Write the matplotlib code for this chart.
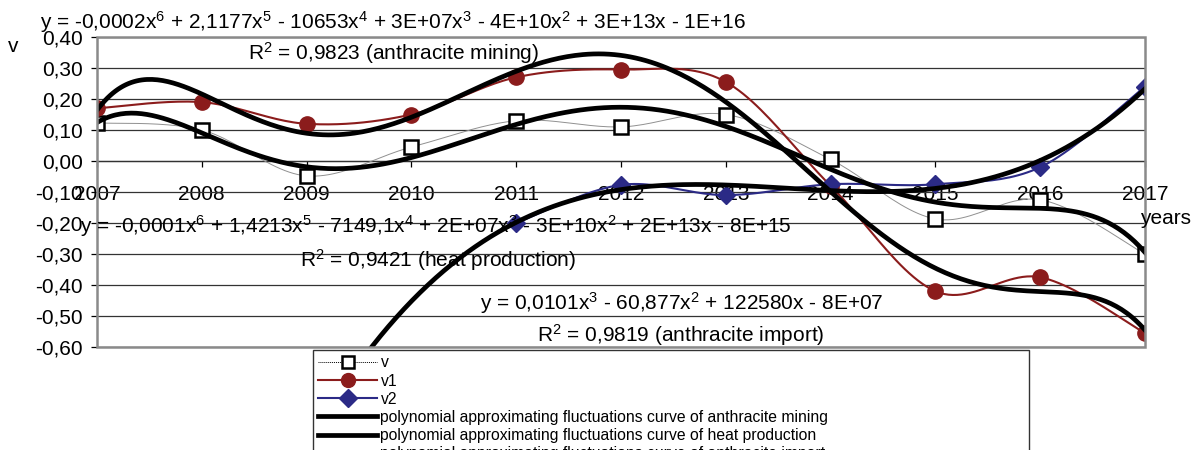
"""Fluctuation indices v, v1, v2 by year with polynomial trend curves."""
import matplotlib
matplotlib.use("Agg")
import matplotlib.pyplot as plt
from matplotlib.patches import Rectangle
from matplotlib.ticker import FuncFormatter
import numpy as np

plt.rcParams["font.family"] = ["Liberation Sans", "DejaVu Sans"]
plt.rcParams["mathtext.default"] = "regular"

years = [2007, 2008, 2009, 2010, 2011, 2012, 2013, 2014, 2015, 2016, 2017]
v = [0.123, 0.10, -0.048, 0.045, 0.13, 0.11, 0.15, 0.005, -0.187, -0.125, -0.30]
v1 = [0.17, 0.19, 0.12, 0.15, 0.27, 0.295, 0.255, -0.08, -0.42, -0.375, -0.555]
years2 = [2011, 2012, 2013, 2014, 2015, 2016, 2017]
v2 = [-0.20, -0.077, -0.11, -0.075, -0.075, -0.02, 0.24]

eq_mining = ("y = -0,0002x$^{6}$ + 2,1177x$^{5}$ - 10653x$^{4}$ + 3E+07x$^{3}$"
             " - 4E+10x$^{2}$ + 3E+13x - 1E+16")
r2_mining = "R$^{2}$ = 0,9823 (anthracite mining)"
eq_heat = ("y = -0,0001x$^{6}$ + 1,4213x$^{5}$ - 7149,1x$^{4}$ + 2E+07x$^{3}$"
           " - 3E+10x$^{2}$ + 2E+13x - 8E+15")
r2_heat = "R$^{2}$ = 0,9421 (heat production)"
eq_import = "y = 0,0101x$^{3}$ - 60,877x$^{2}$ + 122580x - 8E+07"
r2_import = "R$^{2}$ = 0,9819 (anthracite import)"

FS = 15


def smooth(x, y, n=25):
    # Excel-style smoothed line: cubic Bezier, control points at 1/6 of neighbour span
    p = np.column_stack([x, y]).astype(float)
    out = []
    for i in range(len(p) - 1):
        prev = p[i - 1] if i > 0 else p[i]
        nxt = p[i + 2] if i + 2 < len(p) else p[i + 1]
        c1 = p[i] + (p[i + 1] - prev) / 6
        c2 = p[i + 1] - (nxt - p[i]) / 6
        t = np.linspace(0, 1, n)[:, None]
        seg = ((1 - t) ** 3 * p[i] + 3 * (1 - t) ** 2 * t * c1
               + 3 * (1 - t) * t ** 2 * c2 + t ** 3 * p[i + 1])
        out.append(seg if i == 0 else seg[1:])
    s = np.vstack(out)
    return s[:, 0], s[:, 1]


def trend(x, y, deg, x_from, x_to):
    x = np.asarray(x, float)
    coef = np.polyfit(x - 2012, y, deg)
    xx = np.linspace(x_from, x_to, 400)
    return xx, np.polyval(coef, xx - 2012)


fig = plt.figure(figsize=(11.94, 4.5), dpi=100)
ax = fig.add_axes([97 / 1194, 103 / 450, 1048 / 1194, 310 / 450])

red = "#8B1C1C"
navy = "#2B2A86"

sx, sy = smooth(years, v)
ax.plot(sx, sy, color="#909090", lw=0.7, zorder=3)
ax.plot(years, v, ls="none", marker="s", ms=10, mfc="white", mec="black",
        mew=1.8, zorder=4)
sx, sy = smooth(years, v1)
ax.plot(sx, sy, color=red, lw=1.5, zorder=3)
ax.plot(years, v1, ls="none", marker="o", ms=11, color=red, zorder=4)
sx, sy = smooth(years2, v2)
ax.plot(sx, sy, color=navy, lw=1.5, zorder=3)
ax.plot(years2, v2, ls="none", marker="D", ms=9, color=navy, zorder=4)

tx, ty = trend(years, v1, 6, 2007, 2017)
ax.plot(tx, ty, color="black", lw=3.4, zorder=5)
tx, ty = trend(years, v, 6, 2007, 2017)
ax.plot(tx, ty, color="black", lw=3.4, zorder=5)
tx, ty = trend(years2, v2, 3, 2007, 2017)
ax.plot(tx, ty, color="black", lw=3.4, zorder=5)

ax.set_xlim(2007, 2017)
ax.set_ylim(-0.6, 0.4)
ax.set_xticks(years)
ax.set_yticks(np.round(np.arange(-0.6, 0.41, 0.1), 2))
ax.yaxis.set_major_formatter(FuncFormatter(lambda y, _: f"{y:.2f}".replace(".", ",").replace("-0,00", "0,00")))
ax.grid(axis="y", color="#333333", lw=0.9, zorder=1)

for side in ["top", "right", "left"]:
    ax.spines[side].set_visible(False)
ax.spines["bottom"].set_position(("data", 0))
ax.spines["bottom"].set_color("#333333")
ax.spines["bottom"].set_linewidth(0.9)
ax.add_patch(Rectangle((0, 0), 1, 1, transform=ax.transAxes, fill=False,
                       ec="#8a8a8a", lw=1.8, clip_on=False, zorder=6))
ax.tick_params(axis="x", length=4, width=0.9, pad=13, labelsize=FS)
ax.tick_params(axis="y", length=4, width=0.9, pad=6, labelsize=FS)

fig.text(13 / 1194, 1 - 47 / 450, "v", fontsize=FS, ha="center", va="center")
fig.text(1140 / 1194, 1 - 219 / 450, "years", fontsize=FS, ha="left", va="center")

fig.text(40 / 1194, 1 - 22 / 450, eq_mining, fontsize=FS, va="center")
fig.text(248 / 1194, 1 - 53 / 450, r2_mining, fontsize=FS, va="center")
fig.text(80 / 1194, 1 - 226 / 450, eq_heat, fontsize=FS, va="center")
fig.text(300 / 1194, 1 - 260 / 450, r2_heat, fontsize=FS, va="center")
fig.text(480 / 1194, 1 - 303 / 450, eq_import, fontsize=FS, va="center")
fig.text(537 / 1194, 1 - 335 / 450, r2_import, fontsize=FS, va="center")

handles = [
    plt.Line2D([], [], color="black", lw=0.7, ls=(0, (1, 1)), marker="s", ms=9,
               mfc="white", mec="black", mew=1.8),
    plt.Line2D([], [], color=red, lw=1.5, marker="o", ms=10),
    plt.Line2D([], [], color=navy, lw=1.5, marker="D", ms=9),
    plt.Line2D([], [], color="black", lw=3.4),
    plt.Line2D([], [], color="black", lw=3.4),
    plt.Line2D([], [], color="black", lw=3.4),
]
labels = [
    "v", "v1", "v2",
    "polynomial approximating fluctuations curve of anthracite mining",
    "polynomial approximating fluctuations curve of heat production",
    "polynomial approximating fluctuations curve of anthracite import",
]
leg = fig.legend(handles, labels, loc="upper left",
                 bbox_to_anchor=(313 / 1194, 1 - 350 / 450, 716 / 1194, 0.0),
                 mode="expand", fontsize=11.3, frameon=True, fancybox=False,
                 handlelength=3.7, handletextpad=0.25, labelspacing=0.2,
                 borderpad=0.35, borderaxespad=0)
leg.get_frame().set_edgecolor("black")
leg.get_frame().set_linewidth(1.0)

fig.savefig("out.png", dpi=100)
